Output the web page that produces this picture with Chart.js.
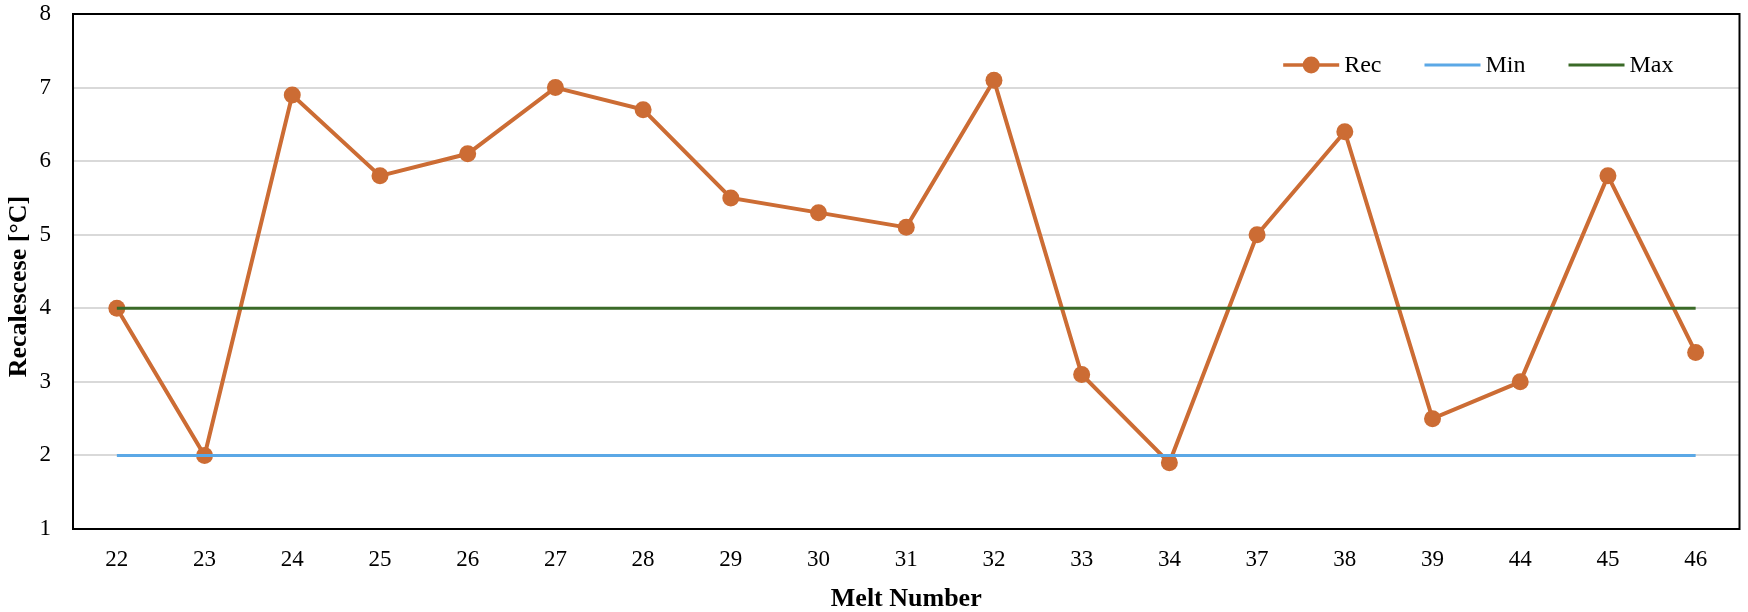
<!DOCTYPE html>
<html><head><meta charset="utf-8">
<script src="https://cdn.jsdelivr.net/npm/chart.js@4/dist/chart.umd.min.js"></script>
<style>html,body{margin:0;padding:0;background:#fff}</style>
</head><body>
<canvas id="c" width="1748" height="612"></canvas>
<script>
const categories = ['22','23','24','25','26','27','28','29','30','31','32','33','34','37','38','39','44','45','46'];
const recValues = [4.0,2.0,6.9,5.8,6.1,7.0,6.7,5.5,5.3,5.1,7.1,3.1,1.9,5.0,6.4,2.5,3.0,5.8,3.4];
const minValues = [2,2,2,2,2,2,2,2,2,2,2,2,2,2,2,2,2,2,2];
const maxValues = [4,4,4,4,4,4,4,4,4,4,4,4,4,4,4,4,4,4,4];
const yMin = 1, yMax = 8, yStep = 1;
const seriesLabels = ['Rec','Min','Max'];
const xTitle = 'Melt Number';
const yTitle = 'Recalescese [°C]';

const recColor = '#CC6C34';
const minColor = '#5BA8E6';
const maxColor = '#3A6A27';
const FONT = '"Liberation Serif", "Times New Roman", serif';

const framePlugin = {
  id: 'frame',
  afterDraw(chart) {
    const {ctx, chartArea: a} = chart;
    ctx.save();
    ctx.strokeStyle = '#000';
    ctx.lineWidth = 2;
    ctx.strokeRect(a.left, a.top, a.right - a.left, a.bottom - a.top);
    // y axis title
    ctx.save();
    ctx.translate(19, (a.top + a.bottom) / 2 + 15);
    ctx.rotate(-Math.PI / 2);
    ctx.font = 'bold 26px ' + FONT;
    ctx.fillStyle = '#000';
    ctx.textAlign = 'center';
    ctx.textBaseline = 'middle';
    ctx.fillText(yTitle, 0, 0);
    ctx.restore();
    // legend inside chart area
    const ds = chart.data.datasets;
    ctx.font = '24px ' + FONT;
    ctx.textBaseline = 'middle';
    ctx.textAlign = 'left';
    const lineLen = 56, textGap = 5, itemGap = 43;
    const widths = ds.map(d => lineLen + textGap + ctx.measureText(d.label).width);
    const total = widths.reduce((s, w) => s + w, 0) + itemGap * (ds.length - 1);
    let x = a.right - 66 - total;
    const y = a.top + 51;
    ds.forEach((d, i) => {
      ctx.strokeStyle = d.borderColor;
      ctx.lineWidth = Math.min(d.borderWidth, 3.5);
      ctx.beginPath();
      ctx.moveTo(x, y);
      ctx.lineTo(x + lineLen, y);
      ctx.stroke();
      if (d.pointRadius > 0) {
        ctx.fillStyle = d.pointBackgroundColor;
        ctx.beginPath();
        ctx.arc(x + lineLen / 2, y, d.pointRadius, 0, Math.PI * 2);
        ctx.fill();
      }
      ctx.fillStyle = '#000';
      ctx.fillText(d.label, x + lineLen + textGap, y + 1);
      x += widths[i] + itemGap;
    });
    ctx.restore();
  }
};

new Chart(document.getElementById('c'), {
  type: 'line',
  data: {
    labels: categories,
    datasets: [
      {label: seriesLabels[0], data: recValues, borderColor: recColor, backgroundColor: recColor,
       pointBackgroundColor: recColor, pointBorderColor: recColor, pointRadius: 8.5, pointBorderWidth: 0,
       borderWidth: 4, tension: 0, order: 2},
      {label: seriesLabels[1], data: minValues, borderColor: minColor, backgroundColor: minColor,
       pointRadius: 0, borderWidth: 3, tension: 0, order: 1},
      {label: seriesLabels[2], data: maxValues, borderColor: maxColor, backgroundColor: maxColor,
       pointRadius: 0, borderWidth: 3, tension: 0, order: 0}
    ]
  },
  options: {
    responsive: false,
    animation: false,
    events: [],
    layout: {padding: {top: 14, right: 6, bottom: 0, left: 0}},
    plugins: {legend: {display: false}, tooltip: {enabled: false}},
    scales: {
      x: {
        type: 'category',
        offset: true,
        grid: {display: false, drawTicks: false},
        border: {display: false},
        ticks: {color: '#000', font: {family: FONT, size: 23}, padding: 17, maxRotation: 0, autoSkip: false},
        title: {display: true, text: xTitle, color: '#000', font: {family: FONT, size: 26, weight: 'bold', lineHeight: 1.0}, padding: {top: 0, bottom: 0}},
        afterFit(s) { s.height = 83; s.paddingLeft = 0; s.paddingRight = 0; }
      },
      y: {
        min: yMin, max: yMax,
        grid: {color: '#d9d9d9', lineWidth: 2, drawTicks: false},
        border: {display: false},
        ticks: {stepSize: yStep, color: '#000', font: {family: FONT, size: 23}, padding: 22},
        title: {display: false, text: yTitle},
        afterFit(s) { s.width = 73; s.paddingTop = 0; s.paddingBottom = 0; }
      }
    }
  },
  plugins: [framePlugin]
});
</script>
</body></html>
